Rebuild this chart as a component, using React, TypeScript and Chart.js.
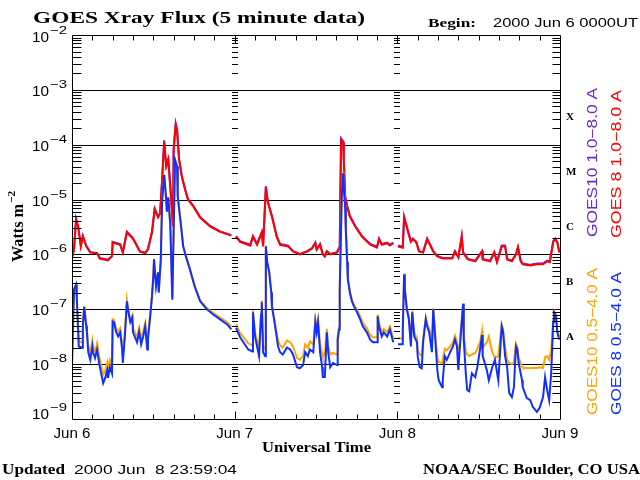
import React, { useEffect, useRef } from "react";
import { Chart, registerables } from "chart.js";

Chart.register(...registerables);

// ---------- data ----------
const dayLabels = ["Jun 6", "Jun 7", "Jun 8", "Jun 9"];
const dayHours = [0, 24, 48, 72];
const decadeExps = [-2, -3, -4, -5, -6, -7, -8, -9];
const gridExps = [-3, -4, -5, -6, -7, -8];
const flareClasses = ["X", "M", "C", "B", "A"];
const flareMids = [3.16e-4, 3.16e-5, 3.16e-6, 3.16e-7, 3.16e-8];

// hours since 2000 Jun 6 00:00 UT (long channel 1.0-8.0 A)
const longT = [
  0, 0.3, 0.6, 0.9, 1.3, 1.6, 2.1, 2.7, 3.7, 4.1, 5.3, 5.9, 6.0, 7.1, 7.5, 8.1, 8.9, 9.3, 10.0, 10.8,
  11.2, 11.8, 12.2, 12.7, 13.0, 13.3, 13.6, 13.9, 14.2, 14.5, 14.9, 15.0, 15.3, 15.5, 15.8, 16.2, 16.7, 17.1, 17.9, 18.9,
  20.4, 21.8, 23.5, 23.8,
  24.2, 24.8, 26.3, 26.7, 27.3, 28.0, 28.2, 28.6, 28.9, 29.5, 30.2, 30.7, 31.9, 32.6, 33.6, 34.7, 35.4, 35.9, 36.1, 36.6,
  37.0, 37.3, 37.6, 38.1, 39.1, 39.5, 39.7, 40.0, 40.1, 40.3, 40.6, 41.0, 41.8, 42.8, 44.0, 45.0, 45.3, 45.7, 46.5, 46.9,
  47.4, 47.7,
  48.1, 48.8, 49.0, 49.3, 49.6, 50.0, 50.3, 50.8, 51.2, 51.8, 52.4, 52.8, 53.3, 53.9, 54.7, 56.1, 56.5, 57.0, 57.5, 57.7,
  58.4, 59.5, 59.9, 60.5, 60.6, 61.7, 62.3, 62.7, 63.4, 63.9, 64.2, 64.9, 65.5, 65.8, 66.2, 66.5, 67.6, 68.6, 69.5, 70.1,
  70.5, 71.0, 71.3, 71.6, 71.9,
];

// GOES 8 1.0-8.0 A (W m^-2)
const goes8Long = [
  8.8e-7, 1.23e-6, 4.3e-6, 3.2e-6, 1.4e-6, 2.1e-6, 1.4e-6, 1.08e-6, 1.05e-6, 8.4e-7, 7.8e-7, 9.2e-7, 1.65e-6, 1.5e-6, 1.08e-6, 2.5e-6, 2.0e-6, 1.65e-6, 1.13e-6, 1.05e-6,
  1.23e-6, 2.5e-6, 6.6e-6, 4.7e-6, 5.5e-6, 2.3e-5, 1.1e-4, 4.0e-5, 5.3e-5, 1.7e-5, 3.2e-6, 8.1e-5, 2.3e-4, 1.8e-4, 5.3e-5, 2.6e-5, 1.5e-5, 1.0e-5, 7.5e-6, 4.7e-6,
  3.2e-6, 2.6e-6, 2.2e-6, null,
  2.1e-6, 1.7e-6, 1.45e-6, 2.1e-6, 1.5e-6, 2.5e-6, 1.4e-6, 1.65e-5, 8.8e-6, 4.9e-6, 2.1e-6, 1.5e-6, 1.4e-6, 1.13e-6, 1.0e-6, 1.13e-6, 1.28e-6, 1.6e-6, 1.23e-6, 1.5e-6,
  1.0e-6, 9.2e-7, 1.13e-6, 1.0e-6, 1.08e-6, 1.33e-6, 1.2e-4, 1.1e-4, 5.3e-5, 1.1e-5, 7.5e-6, 4.9e-6, 3.2e-6, 2.1e-6, 1.5e-6, 1.33e-6, 1.9e-6, 1.5e-6, 1.6e-6, 1.45e-6,
  1.6e-6, null,
  1.4e-6, 1.33e-6, 4.7e-6, 3.5e-6, 2.5e-6, 1.7e-6, 1.9e-6, 1.65e-6, 1.13e-6, 1.08e-6, 1.9e-6, 1.5e-6, 1.13e-6, 9.2e-7, 8.4e-7, 8.4e-7, 1.13e-6, 8.8e-7, 2.1e-6, 1.08e-6,
  8.1e-7, 7.5e-7, 8.8e-7, 1.13e-6, 8.1e-7, 7.5e-7, 1.08e-6, 7.2e-7, 1.4e-6, 1.4e-6, 8.1e-7, 7.5e-7, 1.0e-6, 1.33e-6, 7.5e-7, 6.6e-7, 6.3e-7, 6.6e-7, 6.6e-7, 7.5e-7,
  7.2e-7, 1.7e-6, 1.9e-6, 1.65e-6, 1.08e-6,
];

// GOES10 1.0-8.0 A (W m^-2)
const goes10Long = [
  9.0e-7, 1.25e-6, 4.5e-6, 3.3e-6, 1.45e-6, 2.2e-6, 1.45e-6, 1.1e-6, 1.05e-6, 8.6e-7, 8.0e-7, 9.4e-7, 1.7e-6, 1.55e-6, 1.1e-6, 2.6e-6, 2.05e-6, 1.7e-6, 1.15e-6, 1.08e-6,
  1.25e-6, 2.6e-6, 6.9e-6, 4.9e-6, 5.7e-6, 2.4e-5, 1.2e-4, 4.2e-5, 5.5e-5, 1.8e-5, 3.3e-6, 8.5e-5, 2.45e-4, 1.9e-4, 5.5e-5, 2.7e-5, 1.55e-5, 1.03e-5, 7.7e-6, 4.8e-6,
  3.3e-6, 2.65e-6, 2.25e-6, null,
  2.15e-6, 1.75e-6, 1.5e-6, 2.15e-6, 1.55e-6, 2.55e-6, 1.45e-6, 1.75e-5, 9.1e-6, 5.0e-6, 2.15e-6, 1.55e-6, 1.45e-6, 1.15e-6, 1.02e-6, 1.15e-6, 1.3e-6, 1.65e-6, 1.25e-6, 1.55e-6,
  1.02e-6, 9.4e-7, 1.15e-6, 1.02e-6, 1.1e-6, 1.4e-6, 1.3e-4, 1.15e-4, 5.5e-5, 1.15e-5, 7.7e-6, 5.0e-6, 3.3e-6, 2.15e-6, 1.55e-6, 1.38e-6, 1.95e-6, 1.55e-6, 1.65e-6, 1.5e-6,
  1.65e-6, null,
  1.45e-6, 1.38e-6, 4.9e-6, 3.6e-6, 2.6e-6, 1.75e-6, 1.95e-6, 1.7e-6, 1.15e-6, 1.1e-6, 1.95e-6, 1.55e-6, 1.15e-6, 9.4e-7, 8.6e-7, 8.6e-7, 1.15e-6, 9.0e-7, 2.15e-6, 1.1e-6,
  8.3e-7, 7.7e-7, 9.0e-7, 1.15e-6, 8.3e-7, 7.7e-7, 1.1e-6, 7.4e-7, 1.45e-6, 1.45e-6, 8.3e-7, 7.7e-7, 1.02e-6, 1.38e-6, 7.7e-7, 6.8e-7, 6.5e-7, 6.8e-7, 6.8e-7, 7.7e-7,
  7.4e-7, 1.75e-6, 1.95e-6, 1.7e-6, 1.1e-6,
];

// hours since 2000 Jun 6 00:00 UT (short channel 0.5-4.0 A)
const shortT = [
  0, 0.15, 0.3, 0.6, 0.7, 1.0, 1.5, 1.6, 1.8, 2.1, 2.2, 2.4, 2.7, 3.0, 3.1, 3.4, 3.7, 4.0, 4.3, 4.6,
  4.9, 5.2, 5.3, 5.6, 5.9, 6.0, 6.2, 6.5, 6.8, 7.1, 7.4, 7.5, 7.8, 8.1, 8.3, 8.6, 8.9, 9.0, 9.6, 9.9,
  10.2, 10.5, 10.8, 11.1, 11.2, 11.5, 11.8, 12.0, 12.1, 12.4, 12.7, 12.8, 13.1, 13.3, 13.6, 13.9, 14.0, 14.2, 14.5, 14.8,
  15.0, 15.2, 15.5, 15.6, 16.1, 16.4, 16.8, 17.4, 18.1, 18.9, 19.9, 20.8, 21.8, 22.9, 23.5, 23.8,
  24.2, 24.8, 26.0, 26.6, 26.7, 27.0, 27.4, 27.6, 27.9, 28.0, 28.2, 28.5, 28.6, 28.8, 29.1, 29.4, 29.5, 29.8, 30.1, 30.4,
  30.7, 31.1, 31.7, 32.2, 32.6, 33.2, 33.6, 34.1, 34.4, 34.8, 35.1, 35.6, 35.9, 36.1, 36.3, 36.6, 36.9, 37.0, 37.3, 37.6,
  37.8, 38.1, 38.5, 39.1, 39.2, 39.4, 39.5, 39.8, 40.0, 40.1, 40.3, 40.4, 40.6, 40.7, 41.0, 41.3, 41.6, 42.0, 42.5, 42.9,
  43.5, 44.0, 44.4, 45.0, 45.1, 45.3, 45.7, 46.0, 46.5, 46.9, 47.4, 47.7,
  48.1, 48.7, 48.8, 49.0, 49.1, 49.4, 49.7, 50.0, 50.2, 50.5, 50.9, 51.0, 51.3, 51.6, 51.8, 52.2, 52.4, 52.7, 53.1, 53.3,
  53.6, 53.9, 54.1, 54.6, 54.7, 55.0, 55.3, 55.8, 56.2, 56.5, 56.8, 57.0, 57.2, 57.7, 57.8, 58.1, 58.3, 58.6, 59.0, 59.5,
  59.8, 60.2, 60.5, 60.6, 61.2, 61.5, 62.0, 62.4, 62.9, 63.4, 63.6, 63.9, 64.2, 64.5, 64.9, 65.2, 65.5, 65.7, 65.9, 66.4,
  66.5, 67.1, 67.6, 68.0, 68.6, 69.0, 69.5, 69.8, 70.1, 70.4, 70.7, 71.0, 71.1, 71.4, 71.6, 71.9,
];

// GOES 8 0.5-4.0 A (W m^-2)
const goes8Short = [
  9e-9, 4.9e-8, 2.3e-7, 2.8e-7, 1.65e-7, 2.1e-8, 2.0e-8, 4.9e-8, 1.1e-7, 4.9e-8, 3.8e-8, 1.65e-8, 1.2e-8, 2.1e-8, 1.65e-8, 1.3e-8, 1.85e-8, 1.05e-8, 6.8e-9, 4.5e-9,
  5.6e-9, 7.8e-9, 5.6e-9, 8.8e-9, 6.8e-9, 6.0e-8, 5.8e-8, 3.9e-8, 3.2e-8, 3.8e-8, 1.85e-8, 1.05e-8, 3.2e-8, 1.4e-7, 9.2e-8, 5.8e-8, 7.1e-8, 3.8e-8, 2.5e-8, 3.9e-8,
  2.3e-8, 3.2e-8, 4.9e-8, 1.85e-8, 2.8e-8, 6.6e-8, 1.7e-7, 4.0e-7, 8.1e-7, 2.6e-7, 4.7e-7, 2.0e-7, 8.1e-7, 1.0e-5, 2.8e-5, 1.0e-5, 6.0e-6, 1.1e-5, 3.5e-6, 1.5e-7,
  2.8e-6, 5.3e-5, 4.0e-5, 1.13e-5, 3.2e-6, 1.4e-6, 9.2e-7, 5.3e-7, 2.6e-7, 1.4e-7, 1.0e-7, 8.1e-8, 6.6e-8, 5.3e-8, 4.3e-8, null,
  4.6e-8, 3.1e-8, 1.85e-8, 1.7e-8, 8.8e-8, 3.2e-8, 1.85e-8, 1.4e-8, 8.1e-8, 1.35e-7, 1.65e-8, 1.4e-8, 1.4e-6, 7.2e-7, 4.7e-7, 2.0e-7, 1.13e-7, 6.6e-8, 3.8e-8, 2.1e-8,
  1.65e-8, 1.5e-8, 2.0e-8, 1.85e-8, 1.5e-8, 8.8e-9, 8.4e-9, 9.6e-9, 1.65e-8, 1.4e-8, 1.85e-8, 1.65e-8, 5.8e-8, 3.8e-8, 5.8e-8, 1.65e-8, 8.8e-9, 5.8e-9, 5.8e-9, 3.8e-8,
  1.65e-8, 8.8e-9, 1.05e-8, 9.6e-9, 2.8e-8, 4.3e-8, 2.3e-7, 1.13e-5, 3.0e-5, 1.7e-5, 7.5e-6, 2.8e-6, 7.2e-7, 3.5e-7, 2.0e-7, 1.4e-7, 1.13e-7, 9.2e-8, 6.6e-8, 4.9e-8,
  3.8e-8, 2.8e-8, 2.5e-8, 2.5e-8, 7.5e-8, 4.9e-8, 3.2e-8, 3.8e-8, 3.2e-8, 4.3e-8, 2.5e-8, null,
  2.3e-8, 2.3e-8, 3.8e-8, 4.3e-7, 2.3e-7, 1.0e-7, 6.6e-8, 2.1e-8, 8.8e-8, 3.2e-8, 2.5e-8, 1.4e-8, 8.8e-9, 8.4e-9, 2.5e-8, 6.6e-8, 4.9e-8, 3.8e-8, 1.65e-8, 1.0e-7,
  2.8e-8, 7.8e-9, 5.1e-9, 3.8e-9, 5.1e-9, 1.4e-8, 1.2e-8, 1.65e-8, 2.1e-8, 2.8e-8, 2.1e-8, 7.8e-9, 1.85e-8, 1.25e-7, 2.8e-8, 6.8e-9, 3.4e-9, 3.2e-9, 6.8e-9, 5.8e-9,
  8.8e-9, 1.85e-8, 3.4e-8, 1.4e-8, 7.8e-9, 5.1e-9, 8.8e-9, 1.2e-8, 5.1e-9, 4.9e-8, 3.9e-8, 1.4e-8, 8.8e-9, 3.0e-9, 2.5e-9, 3.8e-9, 2.1e-8, 1.85e-8, 1.05e-8, 5.1e-9,
  3.8e-9, 2.4e-9, 2.2e-9, 1.65e-9, 1.35e-9, 1.6e-9, 2.5e-9, 5.8e-9, 3.4e-9, 2.2e-9, 6.8e-9, 5.8e-8, 8.8e-8, 7.5e-8, 3.8e-8, 2.8e-8,
];

// GOES10 0.5-4.0 A (W m^-2)
const goes10Short = [
  1.4e-8, 5.5e-8, 2.4e-7, 2.9e-7, 1.7e-7, 2.6e-8, 2.5e-8, 5.3e-8, 1.15e-7, 5.3e-8, 4.4e-8, 2.2e-8, 1.6e-8, 2.7e-8, 2.1e-8, 1.7e-8, 2.4e-8, 1.4e-8, 9.5e-9, 6.5e-9,
  7.5e-9, 1.05e-8, 8e-9, 1.2e-8, 9.5e-9, 6.6e-8, 6.4e-8, 4.5e-8, 3.9e-8, 4.5e-8, 2.4e-8, 1.4e-8, 3.9e-8, 1.5e-7, 1.0e-7, 6.5e-8, 7.8e-8, 4.5e-8, 3.1e-8, 4.6e-8,
  2.9e-8, 3.9e-8, 5.6e-8, 2.4e-8, 3.4e-8, 7.2e-8, 1.8e-7, 4.1e-7, 8.3e-7, 2.7e-7, 4.8e-7, 2.1e-7, 8.3e-7, 1.0e-5, 2.9e-5, 1.0e-5, 6.1e-6, 1.1e-5, 3.6e-6, 1.6e-7,
  2.9e-6, 5.4e-5, 4.1e-5, 1.15e-5, 3.3e-6, 1.45e-6, 9.5e-7, 5.5e-7, 2.7e-7, 1.45e-7, 1.05e-7, 8.6e-8, 7.1e-8, 5.8e-8, 4.8e-8, null,
  5.3e-8, 3.7e-8, 2.4e-8, 2.2e-8, 9.5e-8, 3.8e-8, 2.4e-8, 1.9e-8, 9e-8, 1.45e-7, 2.1e-8, 1.9e-8, 1.45e-6, 7.4e-7, 4.9e-7, 2.1e-7, 1.2e-7, 7.2e-8, 4.4e-8, 2.7e-8,
  2.2e-8, 2.0e-8, 2.7e-8, 2.5e-8, 2.1e-8, 1.3e-8, 1.2e-8, 1.4e-8, 2.3e-8, 2.0e-8, 2.6e-8, 2.3e-8, 6.6e-8, 4.6e-8, 6.6e-8, 2.4e-8, 1.6e-8, 1.4e-8, 1.5e-8, 4.4e-8,
  2.1e-8, 1.5e-8, 1.6e-8, 1.5e-8, 3.2e-8, 4.8e-8, 2.4e-7, 1.15e-5, 3.1e-5, 1.75e-5, 7.7e-6, 2.9e-6, 7.5e-7, 3.7e-7, 2.1e-7, 1.5e-7, 1.2e-7, 1.0e-7, 7.5e-8, 5.7e-8,
  4.5e-8, 3.4e-8, 3.1e-8, 3.1e-8, 8.0e-8, 5.6e-8, 3.8e-8, 4.4e-8, 3.8e-8, 4.9e-8, 3.0e-8, null,
  3.0e-8, 2.9e-8, 4.3e-8, 4.5e-7, 2.4e-7, 1.1e-7, 7.2e-8, 2.5e-8, 9.4e-8, 3.7e-8, 3.0e-8, 1.8e-8, 1.5e-8, 1.4e-8, 2.9e-8, 7e-8, 5.4e-8, 4.4e-8, 2.4e-8, 1.05e-7,
  3.4e-8, 1.3e-8, 1.1e-8, 1.05e-8, 1.2e-8, 1.9e-8, 1.8e-8, 2.1e-8, 2.5e-8, 3.3e-8, 2.6e-8, 1.6e-8, 2.2e-8, 1.3e-7, 3.3e-8, 1.7e-8, 1.5e-8, 1.4e-8, 1.5e-8, 1.6e-8,
  1.9e-8, 2.5e-8, 4.0e-8, 2.0e-8, 2.5e-8, 3.2e-8, 1.65e-8, 1.3e-8, 1.4e-8, 5.2e-8, 4.2e-8, 2.0e-8, 1.2e-8, 1.05e-8, 1.0e-8, 1.1e-8, 2.4e-8, 2.1e-8, 1.3e-8, 9e-9,
  8.6e-9, 8.5e-9, 8.4e-9, 8.6e-9, 8.5e-9, 8.8e-9, 8.5e-9, 1.35e-8, 1.4e-8, 1.2e-8, 1.8e-8, 6.5e-8, 9.4e-8, 8e-8, 4.2e-8, 3.2e-8,
];

// ---------- styling ----------
const SERIF = '"Liberation Serif", "DejaVu Serif", serif';
const SANS = '"Liberation Sans", "DejaVu Sans", sans-serif';
const PURPLE = "#7028C8";
const RED = "#FF0000";
const ORANGE = "#FFA500";
const BLUE = "#1030FF";

function fitText(ctx: any, text: string, left: number, base: number, w: number, font: string, color: string) {
  ctx.save();
  ctx.font = font;
  ctx.fillStyle = color;
  ctx.textAlign = "left";
  ctx.textBaseline = "alphabetic";
  const m = ctx.measureText(text).width || 1;
  ctx.translate(left, base);
  ctx.scale(w / m, 1);
  ctx.fillText(text, 0, 0);
  ctx.restore();
}

function fitTextUp(ctx: any, text: string, xBase: number, yStart: number, w: number, font: string, color: string) {
  ctx.save();
  ctx.font = font;
  ctx.fillStyle = color;
  ctx.textAlign = "left";
  ctx.textBaseline = "alphabetic";
  const m = ctx.measureText(text).width || 1;
  ctx.translate(xBase, yStart);
  ctx.rotate(-Math.PI / 2);
  ctx.scale(w / m, 1);
  ctx.fillText(text, 0, 0);
  ctx.restore();
}

const goesPlugin = {
  id: "goesFrame",
  beforeDatasetsDraw(chart: any) {
    const { ctx, chartArea: a, scales } = chart;
    const y = scales.y;
    ctx.save();
    ctx.strokeStyle = "#000";
    ctx.lineWidth = 1;
    ctx.beginPath();
    for (const e of gridExps) {
      const py = Math.round(y.getPixelForValue(Math.pow(10, e))) + 0.5;
      ctx.moveTo(a.left, py);
      ctx.lineTo(a.right + 1, py);
    }
    ctx.stroke();
    ctx.restore();
  },
  afterDatasetsDraw(chart: any) {
    const { ctx, chartArea: a, scales } = chart;
    const x = scales.x;
    const y = scales.y;
    const L = a.left + 0.5;
    const R = a.right + 0.5;
    const T = a.top + 0.5;
    const B = a.bottom + 0.5;
    ctx.save();
    ctx.strokeStyle = "#000";
    ctx.lineWidth = 1;
    ctx.beginPath();
    // frame
    ctx.moveTo(L, T); ctx.lineTo(R, T); ctx.lineTo(R, B); ctx.lineTo(L, B); ctx.closePath();
    // log minor ticks: left, right and at day boundaries
    for (let e = -9; e <= -3; e++) {
      for (let m = 2; m <= 9; m++) {
        const py = Math.round(y.getPixelForValue(m * Math.pow(10, e))) + 0.5;
        ctx.moveTo(L, py); ctx.lineTo(L + 9, py);
        ctx.moveTo(R, py); ctx.lineTo(R - 8, py);
        for (const h of [24, 48]) {
          const px = Math.round(x.getPixelForValue(h));
          ctx.moveTo(px - 3, py); ctx.lineTo(px + 3, py);
        }
      }
    }
    // 3-hour ticks on bottom and top axes
    for (let h = 3; h < 72; h += 3) {
      const px = Math.round(x.getPixelForValue(h)) + 0.5;
      const len = h % 24 === 0 ? 8 : 5;
      ctx.moveTo(px, B); ctx.lineTo(px, B - len);
      ctx.moveTo(px, T); ctx.lineTo(px, T + len);
    }
    ctx.stroke();

    // y labels 10^n
    for (const e of decadeExps) {
      const py = y.getPixelForValue(Math.pow(10, e));
      const off = e === -9 ? 0 : e === -2 ? 7 : 6;
      const base = py + off;
      fitText(ctx, "10", 32, base, 17, `14px ${SANS}`, "#000");
      fitText(ctx, "\u2212" + String(-e), 50, base - 8, 17, `11px ${SANS}`, "#000");
    }
    // x labels
    dayLabels.forEach((lab, i) => {
      const px = x.getPixelForValue(dayHours[i]);
      fitText(ctx, lab, px - 18.5, 438, 37, `14px ${SANS}`, "#000");
    });
    // flare classes
    ctx.font = `bold 11px ${SERIF}`;
    ctx.fillStyle = "#000";
    ctx.textAlign = "left";
    ctx.textBaseline = "alphabetic";
    flareClasses.forEach((c, i) => {
      const py = y.getPixelForValue(flareMids[i]);
      ctx.fillText(c, 566, py + 3);
    });

    // titles and annotations
    fitText(ctx, "GOES Xray Flux (5 minute data)", 33, 23, 332, `bold 17px ${SERIF}`, "#000");
    fitText(ctx, "Begin:", 428, 27, 48, `bold 12px ${SERIF}`, "#000");
    fitText(ctx, "2000 Jun 6 0000UT", 493, 27, 145, `13px ${SANS}`, "#000");
    fitText(ctx, "Universal Time", 262, 452, 109, `bold 14px ${SERIF}`, "#000");
    fitText(ctx, "Updated", 2, 474, 63, `bold 15px ${SERIF}`, "#000");
    fitText(ctx, "2000 Jun  8 23:59:04", 74, 474, 163, `13px ${SANS}`, "#000");
    fitText(ctx, "NOAA/SEC Boulder, CO USA", 423, 474, 217, `bold 15px ${SERIF}`, "#000");

    // y-axis title
    fitTextUp(ctx, "Watts m", 23, 262, 58, `bold 16px ${SERIF}`, "#000");
    fitTextUp(ctx, "\u22122", 15, 203, 12, `bold 11px ${SERIF}`, "#000");

    // rotated legends
    fitTextUp(ctx, "GOES10 1.0\u22128.0 A", 597, 237, 149, `14px ${SANS}`, PURPLE);
    fitTextUp(ctx, "GOES 8 1.0\u22128.0 A", 621, 238, 148, `14px ${SANS}`, RED);
    fitTextUp(ctx, "GOES10 0.5\u22124.0 A", 597, 415, 147, `14px ${SANS}`, ORANGE);
    fitTextUp(ctx, "GOES 8 0.5\u22124.0 A", 621, 415, 143, `14px ${SANS}`, BLUE);
    ctx.restore();
  },
};

function pts(t: number[], v: (number | null)[]) {
  return t.map((tt, i) => ({ x: tt, y: v[i] }));
}

export default function App() {
  const ref = useRef<HTMLCanvasElement | null>(null);
  useEffect(() => {
    document.body.style.margin = "0";
    document.body.style.background = "#fff";
    const canvas = ref.current;
    if (!canvas) return;
    const line = (label: string, data: any[], color: string, order: number) => ({
      label,
      data,
      borderColor: color,
      backgroundColor: color,
      borderWidth: 2,
      pointRadius: 0,
      tension: 0,
      fill: false,
      spanGaps: false,
      order,
    });
    const chart = new Chart(canvas, {
      type: "line",
      data: {
        datasets: [
          line("GOES10 1.0-8.0 A", pts(longT, goes10Long), PURPLE, 4),
          line("GOES 8 1.0-8.0 A", pts(longT, goes8Long), RED, 3),
          line("GOES10 0.5-4.0 A", pts(shortT, goes10Short), ORANGE, 2),
          line("GOES 8 0.5-4.0 A", pts(shortT, goes8Short), BLUE, 1),
        ],
      },
      options: {
        responsive: false,
        animation: false,
        devicePixelRatio: 1,
        events: [],
        layout: { padding: { left: 72, right: 80, top: 35, bottom: 61 } },
        scales: {
          x: { type: "linear", min: 0, max: 72, display: false },
          y: { type: "logarithmic", min: 1e-9, max: 1e-2, display: false },
        },
        plugins: { legend: { display: false }, tooltip: { enabled: false } },
      },
      plugins: [goesPlugin],
    } as any);
    return () => chart.destroy();
  }, []);
  return (
    <div style={{ width: 640, height: 480, background: "#fff" }}>
      <canvas ref={ref} width={640} height={480} style={{ display: "block", width: 640, height: 480 }} />
    </div>
  );
}
